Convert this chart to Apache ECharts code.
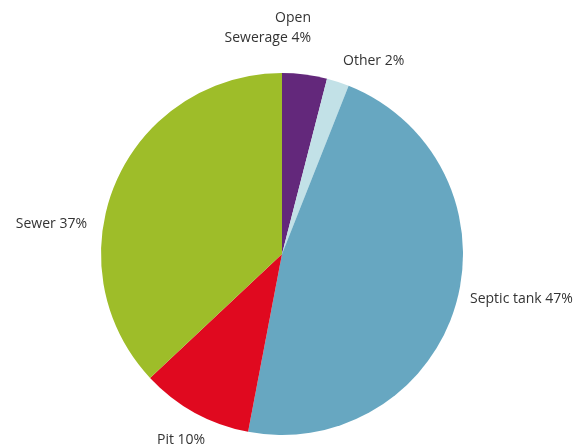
<!DOCTYPE html>
<html><head><meta charset="utf-8">
<script src="https://cdn.jsdelivr.net/npm/echarts@6/dist/echarts.min.js"></script>
<style>html,body{margin:0;padding:0;background:#fff;}#c{width:579px;height:448px;}</style>
</head><body><div id="c"></div>
<script>
var categories = ['Open\nSewerage', 'Other', 'Septic tank', 'Pit', 'Sewer'];
var values = [4, 2, 47, 10, 37];
var colors = ['#63287b', '#c2e1e7', '#67a7c1', '#e0091f', '#9ebd29'];
// label anchor placement (layout only)
var labelPlace = [
  { x: 311, y: 28, align: 'right' },
  { x: 343, y: 61, align: 'left' },
  { x: 470, y: 299, align: 'left' },
  { x: 157, y: 440, align: 'left' },
  { x: 87, y: 224, align: 'right' }
];

var chart = echarts.init(document.getElementById('c'));
chart.setOption({
  animation: false,
  series: [{
    type: 'pie',
    center: [282, 254],
    radius: 181,
    startAngle: 90,
    clockwise: true,
    data: categories.map(function (c, i) { return { name: c, value: values[i], itemStyle: { color: colors[i] } }; }),
    label: {
      show: true,
      position: 'outside',
      formatter: function (p) { return p.name + ' ' + p.value + '%'; },
      color: '#333',
      fontFamily: 'Open Sans',
      fontSize: 14,
      lineHeight: 20,
      overflow: 'none',
      width: 200
    },
    labelLine: { show: false, length: 8, length2: 0 },
    labelLayout: function (p) {
      var L = labelPlace[p.dataIndex];
      return { x: L.x, y: L.y, align: L.align, verticalAlign: 'middle', hideOverlap: false };
    },
    itemStyle: { borderWidth: 0 }
  }]
});
</script></body></html>
